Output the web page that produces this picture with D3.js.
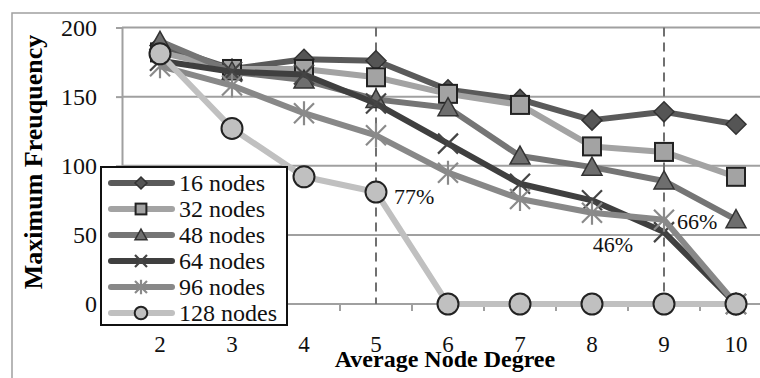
<!DOCTYPE html>
<html><head><meta charset="utf-8">
<script src="https://cdn.jsdelivr.net/npm/d3@7/dist/d3.min.js"></script>
<style>html,body{margin:0;padding:0;background:#fff;}svg{display:block;}</style>
</head><body>
<script>
const categories = [2, 3, 4, 5, 6, 7, 8, 9, 10];
const seriesNames = ["16 nodes", "32 nodes", "48 nodes", "64 nodes", "96 nodes", "128 nodes"];
const nodes16  = [187, 170, 177, 176, 155, 148, 133, 139, 130];
const nodes32  = [182, 170, 170, 164, 152, 144, 114, 110, 92];
const nodes48  = [190, 168, 162, 148, 142, 107, 99, 89, 61];
const nodes64  = [176, 168, 166, 145, 116, 87, 75, 52, 0];
const nodes96  = [172, 158, 138, 122, 95, 76, 66, 61, 0];
const nodes128 = [181, 127, 92, 81, 0, 0, 0, 0, 0];
const yTicks = [0, 50, 100, 150, 200];
const dashedAt = [5, 9];
const annotations = [
  {text: "77%", cat: 5, value: 81},
  {text: "46%", cat: 9, value: 52},
  {text: "66%", cat: 9, value: 61}
];

const W = 760, H = 378;
const svg = d3.select("body").append("svg").attr("width", W).attr("height", H);
const x = d3.scaleBand().domain(categories).range([124, 772]).padding(0);
const cx = c => x(c) + x.bandwidth() / 2;
const y = d3.scaleLinear().domain([0, 200]).range([304, 27.5]);
const serif = "'Liberation Serif','Times New Roman',serif";
const txt = "#111";

// outer border
svg.append("rect").attr("x", 12).attr("y", 13).attr("width", 800).attr("height", 400)
  .attr("fill", "none").attr("stroke", "#a0a0a0").attr("stroke-width", 1.5);

// gridlines + y axis
const yAxis = d3.axisLeft(y).tickValues(yTicks).tickSize(6).tickPadding(19);
const gy = svg.append("g").attr("transform", "translate(122,0)").call(yAxis);
gy.select(".domain").attr("stroke", "#a0a0a0").attr("stroke-width", 2);
gy.selectAll(".tick line").attr("stroke", "#a0a0a0").attr("stroke-width", 2);
gy.selectAll(".tick text").attr("font-family", serif).attr("font-size", 24).attr("fill", txt);
svg.append("g").selectAll("line").data(yTicks).join("line")
  .attr("x1", 122).attr("x2", W).attr("y1", d => y(d)).attr("y2", d => y(d))
  .attr("stroke", "#a0a0a0").attr("stroke-width", 2);

// x axis ticks at band boundaries
const gx = svg.append("g").attr("transform", "translate(0,304)");
gx.selectAll("line").data(categories.slice(1)).join("line")
  .attr("x1", d => x(d)).attr("x2", d => x(d)).attr("y1", 0).attr("y2", 7)
  .attr("stroke", "#a0a0a0").attr("stroke-width", 2);
gx.selectAll("text").data(categories).join("text")
  .attr("x", d => cx(d)).attr("y", 48).attr("text-anchor", "middle")
  .attr("font-family", serif).attr("font-size", 23).attr("fill", txt).text(d => d);

// dashed verticals
svg.append("g").selectAll("line").data(dashedAt).join("line")
  .attr("x1", d => cx(d)).attr("x2", d => cx(d)).attr("y1", y(200)).attr("y2", y(0))
  .attr("stroke", "#707070").attr("stroke-width", 2).attr("stroke-dasharray", "9,6");

// axis titles
svg.append("text").attr("x", 445).attr("y", 367).attr("text-anchor", "middle")
  .attr("font-family", serif).attr("font-weight", "bold").attr("font-size", 24).attr("fill", "#000")
  .text("Average Node Degree");
svg.append("text").attr("transform", "translate(42,162) rotate(-90)").attr("text-anchor", "middle")
  .attr("font-family", serif).attr("font-weight", "bold").attr("font-size", 26).attr("fill", "#000")
  .text("Maximum Freuquency");

// series
const series = [
  {name: seriesNames[0], values: nodes16,  line: "#5a5a5a", sym: "diamond", fill: "#555", stroke: "#333"},
  {name: seriesNames[1], values: nodes32,  line: "#a3a3a3", sym: "square",  fill: "#a3a3a3", stroke: "#222"},
  {name: seriesNames[2], values: nodes48,  line: "#757575", sym: "triangle", fill: "#6e6e6e", stroke: "#333"},
  {name: seriesNames[3], values: nodes64,  line: "#3f3f3f", sym: "x",  fill: "none", stroke: "#444"},
  {name: seriesNames[4], values: nodes96,  line: "#888888", sym: "star", fill: "none", stroke: "#8a8a8a"},
  {name: seriesNames[5], values: nodes128, line: "#c0c0c0", sym: "circle", fill: "#c0c0c0", stroke: "#222"}
];

function marker(g, sym, s, fill, stroke) {
  if (sym === "diamond") {
    g.append("path").attr("d", `M0,${-s}L${s},0L0,${s}L${-s},0Z`).attr("fill", fill).attr("stroke", stroke).attr("stroke-width", 1.5);
  } else if (sym === "square") {
    g.append("rect").attr("x", -s*0.9).attr("y", -s*0.9).attr("width", s*1.8).attr("height", s*1.8)
      .attr("fill", fill).attr("stroke", stroke).attr("stroke-width", 2);
  } else if (sym === "triangle") {
    g.append("path").attr("d", `M0,${-s}L${s},${s*0.8}L${-s},${s*0.8}Z`).attr("fill", fill).attr("stroke", stroke).attr("stroke-width", 1.5);
  } else if (sym === "x") {
    g.append("path").attr("d", `M${-s},${-s}L${s},${s}M${-s},${s}L${s},${-s}`).attr("stroke", stroke).attr("stroke-width", 2.2);
  } else if (sym === "star") {
    g.append("path").attr("d", `M${-s},${-s}L${s},${s}M${-s},${s}L${s},${-s}M0,${-s*1.2}L0,${s*1.2}`).attr("stroke", stroke).attr("stroke-width", 2.2);
  } else if (sym === "circle") {
    g.append("circle").attr("r", s*1.05).attr("fill", fill).attr("stroke", stroke).attr("stroke-width", 2);
  }
}

const lineGen = d3.line().x((d, i) => cx(categories[i])).y(d => y(d));
const plot = svg.append("g");
series.forEach(s => {
  plot.append("path").datum(s.values).attr("d", lineGen).attr("fill", "none")
    .attr("stroke", s.line).attr("stroke-width", 6).attr("stroke-linejoin", "round");
  s.values.forEach((v, i) => {
    const g = plot.append("g").attr("transform", `translate(${cx(categories[i])},${y(v)})`);
    marker(g, s.sym, 10, s.fill, s.stroke);
  });
});

// annotations
const annOff = [[18, 12, "start"], [-31, 20, "end"], [13, 9, "start"]];
annotations.forEach((a, i) => {
  svg.append("text").attr("x", cx(a.cat) + annOff[i][0]).attr("y", y(a.value) + annOff[i][1])
    .attr("text-anchor", annOff[i][2]).attr("font-family", serif).attr("font-size", 22).attr("fill", txt)
    .text(a.text);
});

// legend
const lg = svg.append("g");
lg.append("rect").attr("x", 101).attr("y", 167).attr("width", 186).attr("height", 158)
  .attr("fill", "#fff").attr("stroke", "#111").attr("stroke-width", 2);
series.forEach((s, i) => {
  const yy = 183 + i * 26;
  lg.append("line").attr("x1", 111).attr("x2", 172).attr("y1", yy).attr("y2", yy)
    .attr("stroke", s.line).attr("stroke-width", 6).attr("stroke-linecap", "round");
  const g = lg.append("g").attr("transform", `translate(141,${yy})`);
  marker(g, s.sym, 6, s.fill, s.stroke);
  lg.append("text").attr("x", 179).attr("y", yy + 8).attr("font-family", serif).attr("font-size", 24)
    .attr("fill", txt).text(s.name);
});
</script>
</body></html>
